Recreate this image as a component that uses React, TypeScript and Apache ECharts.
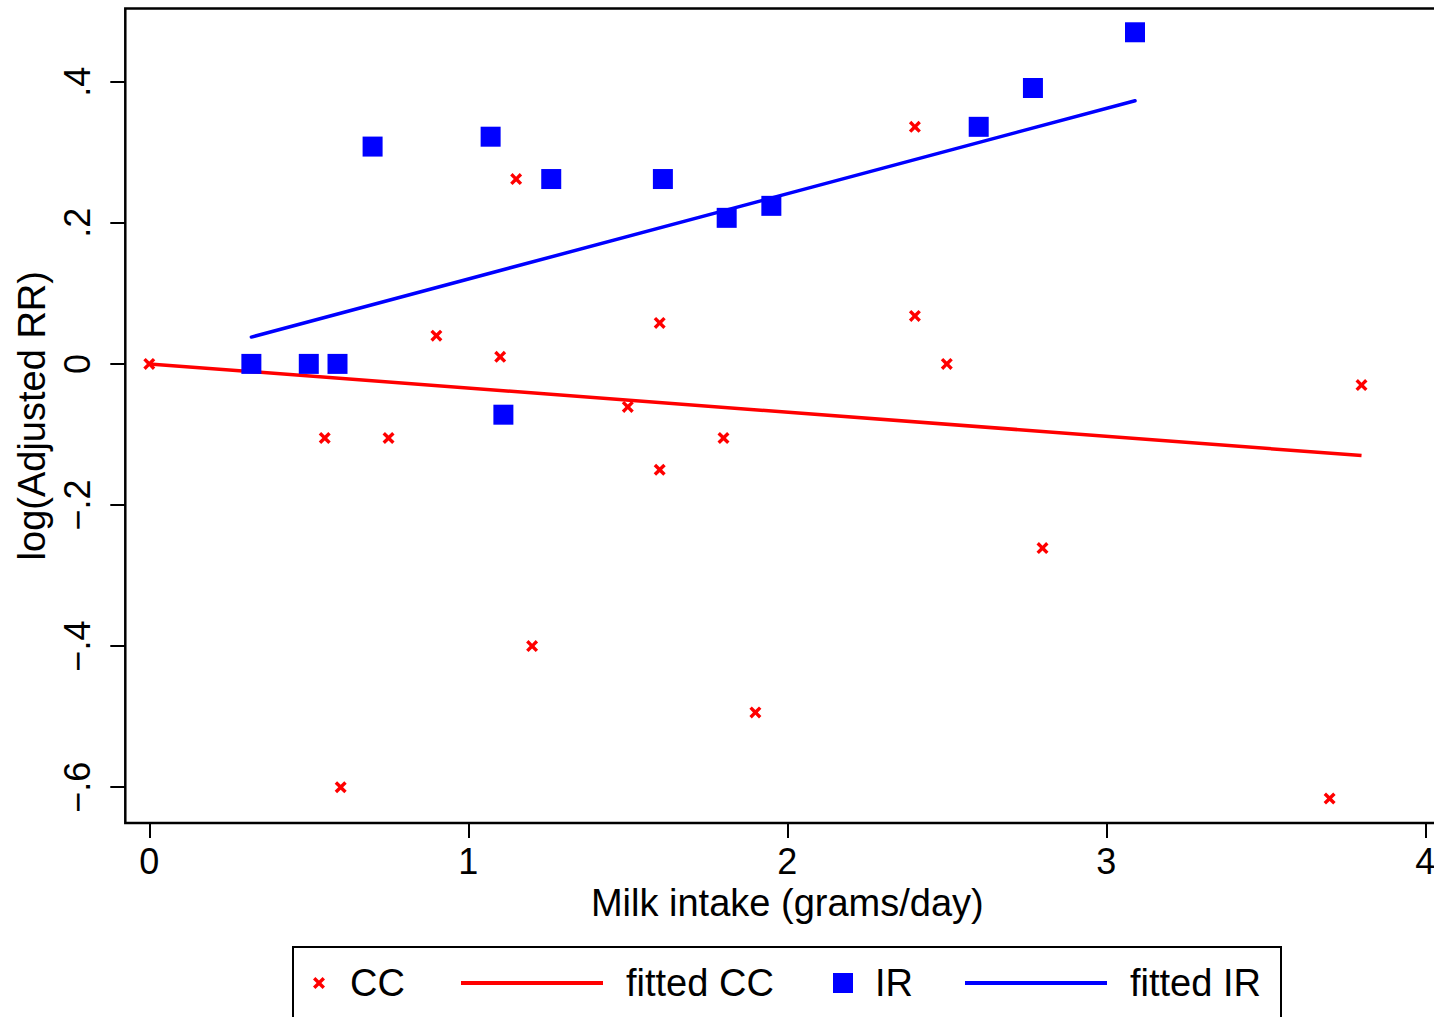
import React, { useEffect, useRef } from "react";
import * as echarts from "echarts";

// ---- data ----
const ccX = [0, 0.55, 0.6, 0.75, 0.9, 1.1, 1.15, 1.2, 1.5, 1.6, 1.6, 1.8, 1.9, 2.4, 2.4, 2.5, 2.8, 3.7, 3.8];
const ccY = [0, -0.105, -0.6, -0.105, 0.04, 0.01, 0.262, -0.4, -0.061, 0.058, -0.15, -0.105, -0.494, 0.336, 0.068, 0, -0.261, -0.616, -0.03];
const irX = [0.32, 0.5, 0.59, 0.7, 1.07, 1.11, 1.26, 1.61, 1.81, 1.95, 2.6, 2.77, 3.09];
const irY = [0, 0, 0, 0.308, 0.322, -0.072, 0.262, 0.262, 0.207, 0.224, 0.336, 0.391, 0.47];
const fitCCX = [0, 3.8];
const fitCCY = [0, -0.13];
const fitIRX = [0.32, 3.09];
const fitIRY = [0.038, 0.373];
const xTicks = [0, 1, 2, 3, 4];
const yTicks = [-0.6, -0.4, -0.2, 0, 0.2, 0.4];
const seriesNames = ["CC", "fitted CC", "IR", "fitted IR"];
const xTitle = "Milk intake (grams/day)";
const yTitle = "log(Adjusted RR)";

const RED = "#ff0000";
const BLUE = "#0000ff";
const FONT = "'Liberation Sans', Arial, Helvetica, sans-serif";

const X_PATH =
  "path://M0,2 L2,0 L5,3 L8,0 L10,2 L7,5 L10,8 L8,10 L5,7 L2,10 L0,8 L3,5 Z";
const X_UNIT = [
  [0, 2], [2, 0], [5, 3], [8, 0], [10, 2], [7, 5],
  [10, 8], [8, 10], [5, 7], [2, 10], [0, 8], [3, 5],
];

const zip = (xs: number[], ys: number[]) => xs.map((x, i) => [x, ys[i]]);

const fmtY = (v: number) => {
  if (Math.abs(v) < 1e-9) return "0";
  const s = String(Math.round(Math.abs(v) * 10) / 10).replace(/^0/, "");
  return (v < 0 ? "\u2212" : "") + s;
};

export default function App() {
  const ref = useRef<HTMLDivElement>(null);
  useEffect(() => {
    if (!ref.current) return;
    const chart = echarts.init(ref.current, undefined, { renderer: "svg" });
    const legendFont = `38px ${FONT}`;
    const legendY = 983;
    const xMark = (cx: number, cy: number, size: number) =>
      X_UNIT.map(([a, b]) => [cx - size / 2 + (a * size) / 10, cy - size / 2 + (b * size) / 10]);
    const legendText = (text: string, x: number) => ({
      type: "text",
      x,
      y: legendY,
      silent: true,
      style: { text, font: legendFont, fill: "#000", align: "left", verticalAlign: "middle" },
    });
    const legendLine = (x1: number, x2: number, color: string) => ({
      type: "line",
      silent: true,
      shape: { x1, y1: legendY, x2, y2: legendY },
      style: { stroke: color, lineWidth: 4 },
    });
    const option: any = {
      animation: false,
      backgroundColor: "#fff",
      grid: {
        left: 125.3,
        top: 8.5,
        width: 1324,
        height: 814.5,
        show: true,
        borderColor: "#000",
        borderWidth: 2.5,
        backgroundColor: "transparent",
        containLabel: false,
        outerBoundsMode: "none",
      },
      xAxis: {
        type: "value",
        min: -0.0752,
        max: 4.0752,
        axisLine: { show: false, onZero: false },
        splitLine: { show: false },
        axisTick: {
          show: true,
          customValues: xTicks,
          length: 15,
          lineStyle: { color: "#000", width: 2 },
        },
        axisLabel: {
          customValues: xTicks,
          formatter: (v: number) => String(Math.round(v)),
          margin: 20,
          fontSize: 36,
          color: "#000",
          fontFamily: FONT,
        },
        name: xTitle,
        nameLocation: "middle",
        nameGap: 60,
        nameTextStyle: { fontSize: 38, color: "#000", fontFamily: FONT },
      },
      yAxis: {
        type: "value",
        min: -0.6507,
        max: 0.5037,
        axisLine: { show: false, onZero: false },
        splitLine: { show: false },
        axisTick: {
          show: true,
          customValues: yTicks,
          length: 15,
          lineStyle: { color: "#000", width: 2 },
        },
        axisLabel: {
          customValues: yTicks,
          formatter: fmtY,
          rotate: 90,
          margin: 30,
          fontSize: 36,
          color: "#000",
          fontFamily: FONT,
        },
        name: yTitle,
        nameLocation: "middle",
        nameRotate: 90,
        nameGap: 69,
        nameTextStyle: { fontSize: 38, color: "#000", fontFamily: FONT },
      },
      graphic: [
        {
          type: "rect",
          silent: true,
          shape: { x: 293, y: 947, width: 988, height: 120 },
          style: { fill: "none", stroke: "#000", lineWidth: 2 },
        },
        {
          type: "polygon",
          silent: true,
          shape: { points: xMark(319, legendY, 12) },
          style: { fill: RED },
        },
        legendText(seriesNames[0], 350),
        legendLine(461, 603, RED),
        legendText(seriesNames[1], 626),
        {
          type: "rect",
          silent: true,
          shape: { x: 833, y: legendY - 10, width: 20, height: 20 },
          style: { fill: BLUE },
        },
        legendText(seriesNames[2], 875),
        legendLine(965, 1107, BLUE),
        legendText(seriesNames[3], 1130),
      ],
      series: [
        {
          name: seriesNames[0],
          type: "scatter",
          symbol: X_PATH,
          symbolSize: 12,
          itemStyle: { color: RED, opacity: 1 },
          data: zip(ccX, ccY),
          z: 2,
        },
        {
          name: seriesNames[1],
          type: "line",
          showSymbol: false,
          symbol: "none",
          itemStyle: { color: RED },
          lineStyle: { color: RED, width: 3.5 },
          data: zip(fitCCX, fitCCY),
          z: 3,
        },
        {
          name: seriesNames[2],
          type: "scatter",
          symbol: "rect",
          symbolSize: 20,
          itemStyle: { color: BLUE, opacity: 1 },
          data: zip(irX, irY),
          z: 4,
        },
        {
          name: seriesNames[3],
          type: "line",
          showSymbol: false,
          symbol: "none",
          itemStyle: { color: BLUE },
          lineStyle: { color: BLUE, width: 3.5, cap: "round" },
          data: zip(fitIRX, fitIRY),
          z: 5,
        },
      ],
    };
    chart.setOption(option);
    return () => chart.dispose();
  }, []);
  return (
    <div
      ref={ref}
      style={{ position: "absolute", left: 0, top: 0, width: 1434, height: 1017, background: "#fff" }}
    />
  );
}
